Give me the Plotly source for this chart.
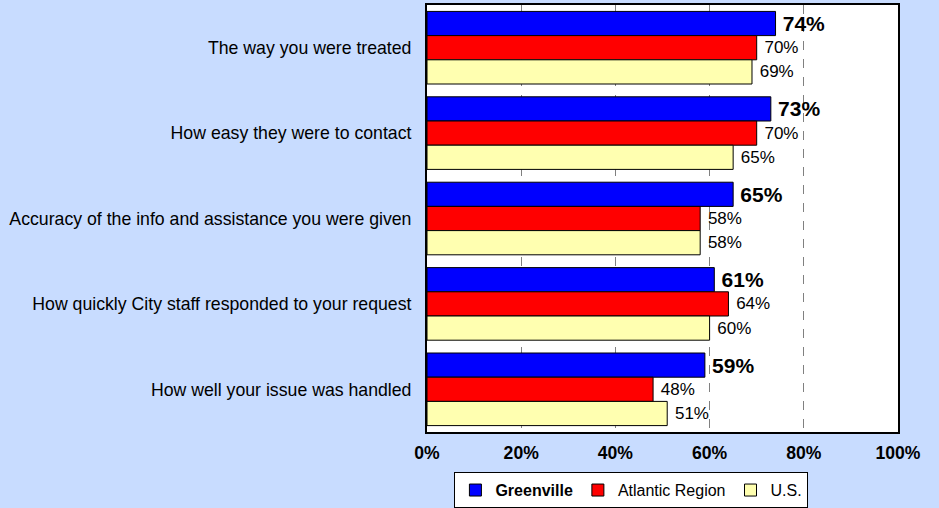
import plotly.graph_objects as go

categories = [
    "The way you were treated",
    "How easy they were to contact",
    "Accuracy of the info and assistance you were given",
    "How quickly City staff responded to your request",
    "How well your issue was handled",
]
greenville = [74, 73, 65, 61, 59]
atlantic = [70, 70, 58, 64, 48]
us = [69, 65, 58, 60, 51]
tick_vals = [0, 20, 40, 60, 80, 100]
tick_text = ["0%", "20%", "40%", "60%", "80%", "100%"]

FONT = "Liberation Sans, Arial, sans-serif"
BG = "#C8DCFF"

series = [
    ("<b>Greenville</b>", greenville, "#0000FF", dict(size=21, color="black", family=FONT), True),
    ("Atlantic Region", atlantic, "#FF0000", dict(size=17, color="black", family=FONT), False),
    ("U.S.", us, "#FFFFB0", dict(size=17, color="black", family=FONT), False),
]

fig = go.Figure()
for name, vals, color, tfont, bold in series:
    txt = [f"\u2009<b>{v}%</b>" if bold else f" {v}%" for v in vals]
    fig.add_trace(go.Bar(
        y=categories, x=vals, orientation="h", name=name,
        marker=dict(color=color, line=dict(color="black", width=1)),
        text=txt, textposition="outside", textfont=tfont,
        constraintext="none", cliponaxis=False,
        hoverinfo="skip",
    ))

fig.update_layout(
    width=939, height=508,
    paper_bgcolor=BG, plot_bgcolor="white",
    margin=dict(l=427, r=41, t=5, b=76, autoexpand=False),
    barmode="group", bargap=0.15, bargroupgap=0,
    font=dict(family=FONT, size=17, color="black"),
    legend=dict(
        orientation="h", x=0.434, xanchor="center", y=-0.094, yanchor="top",
        bgcolor="white", bordercolor="black", borderwidth=1,
        font=dict(size=16, family=FONT, color="black"),
        itemwidth=30, tracegroupgap=0,
    ),
    xaxis=dict(
        range=[0, 100], tickvals=tick_vals, ticktext=tick_text,
        tickfont=dict(size=17.6, family=FONT, color="black", weight="bold"),
        showgrid=True, gridcolor="#808080", griddash="dash", gridwidth=1,
        zeroline=False, showline=True, mirror=True, linecolor="black", linewidth=2,
        ticks="", ticklabelstandoff=4,
    ),
    yaxis=dict(
        autorange="reversed", showgrid=False, zeroline=False,
        showline=True, mirror=True, linecolor="black", linewidth=2,
        ticks="", ticklabelstandoff=10,
        tickfont=dict(size=17.7, family=FONT, color="black"),
    ),
)

fig.write_html("out.html")
